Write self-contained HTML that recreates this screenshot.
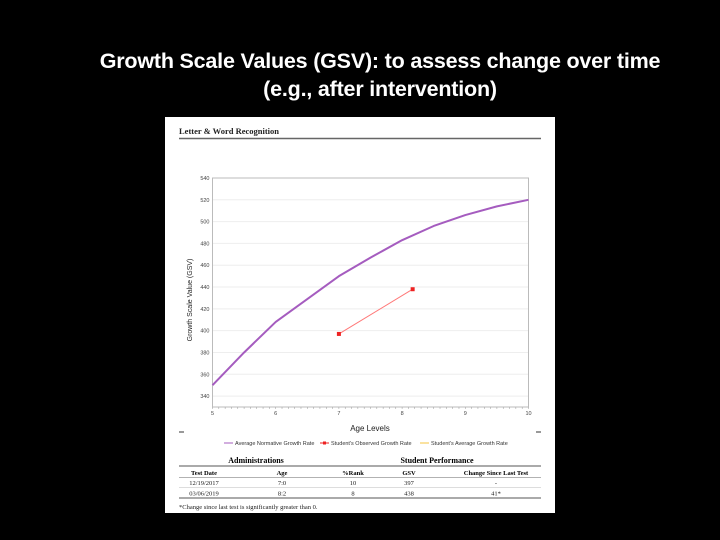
<!DOCTYPE html>
<html><head><meta charset="utf-8"><style>
body{margin:0;background:#000;width:720px;height:540px;overflow:hidden;position:relative;font-family:"Liberation Sans",sans-serif}
.t{position:absolute;left:0;width:760px;text-align:center;color:#fff;font-weight:bold;font-size:21.5px;letter-spacing:-0.2px}
#card{position:absolute;left:165px;top:117px;width:390px;height:396px;background:#fff}
</style></head><body>
<div class="t" style="top:49px">Growth Scale Values (GSV): to assess change over time</div>
<div class="t" style="top:77px">(e.g., after intervention)</div>
<div id="card"></div>
<svg id="svg" width="720" height="540" style="position:absolute;left:0;top:0"></svg>
<script>
const ages=[5,5.5,6,6.5,7,7.5,8,8.5,9,9.5,10];
const norm=[350,380,408,429,450,467,483,496,506,514,520];
const obsAge=[7,8.167];
const obsGsv=[397,438];
const yTicks=[340,360,380,400,420,440,460,480,500,520,540];
const xTicks=[5,6,7,8,9,10];
const rows=[["12/19/2017","7:0","10","397","-"],["03/06/2019","8:2","8","438","41*"]];
const X0=212.5,X1=528.5,Y0=407,Y1=178;
const sx=a=>X0+(a-5)/(10-5)*(X1-X0);
const sy=v=>Y0-(v-330)/(540-330)*(Y0-Y1);
const svg=document.getElementById('svg');const NS='http://www.w3.org/2000/svg';
function el(t,at,txt){const e=document.createElementNS(NS,t);for(const k in at)e.setAttribute(k,at[k]);if(txt!=null)e.textContent=txt;svg.appendChild(e);return e;}
let e;
e=el('text',{x:179,y:134,'font-family':'Liberation Serif,serif','font-weight':'bold','font-size':8.5,fill:'#222'},'Letter & Word Recognition');

el('line',{x1:179,x2:541,y1:138.5,y2:138.5,stroke:'#666','stroke-width':1.5});
for(const v of yTicks){
 e=el('line',{x1:X0,x2:X1,y1:sy(v),y2:sy(v),stroke:'#eee','stroke-width':1});
 
 e=el('text',{x:X0-3,y:sy(v)+2,'font-size':5.5,'text-anchor':'end',fill:'#444'},v);
 
}
el('rect',{x:X0,y:Y1,width:X1-X0,height:Y0-Y1,fill:'none',stroke:'#bbb','stroke-width':1});
for(let a=5;a<=10.001;a+=0.1){el('line',{x1:sx(a),x2:sx(a),y1:Y0,y2:Y0+2,stroke:'#999','stroke-width':0.5});}
for(const a of xTicks){
 e=el('text',{x:sx(a),y:Y0+8,'font-size':5.5,'text-anchor':'middle',fill:'#444'},a);
 
}
e=el('text',{x:370,y:431,'font-size':8,'text-anchor':'middle',fill:'#222'},'Age Levels');

e=el('text',{x:192,y:300,'font-size':7,'text-anchor':'middle',fill:'#222',transform:'rotate(-90 192 300)'},'Growth Scale Value (GSV)');

e=el('polyline',{points:ages.map((a,i)=>sx(a)+','+sy(norm[i])).join(' '),fill:'none',stroke:'#a55cbf','stroke-width':2,'stroke-linejoin':'round'});

e=el('polyline',{points:obsAge.map((a,i)=>sx(a)+','+sy(obsGsv[i])).join(' '),fill:'none',stroke:'#f77','stroke-width':1});

obsAge.forEach((a,i)=>{e=el('rect',{x:sx(a)-2,y:sy(obsGsv[i])-2,width:4,height:4,fill:'#e22'});
 });
el('line',{x1:179,x2:184,y1:432,y2:432,stroke:'#333'});el('line',{x1:536,x2:541,y1:432,y2:432,stroke:'#333'});
const leg=[[224,'#a55cbf','Average Normative Growth Rate'],[320,'#e22','Student\'s Observed Growth Rate'],[420,'#f5c542','Student\'s Average Growth Rate']];
for(const [x,c,t] of leg){
 el('line',{x1:x,x2:x+9,y1:443,y2:443,stroke:c,'stroke-width':1});
 if(c=='#e22')el('rect',{x:x+3,y:441.5,width:3,height:3,fill:c});
 e=el('text',{x:x+11,y:445,'font-size':5.5,fill:'#333'},t);
 
}
const S='Liberation Serif,serif';
e=el('text',{x:256,y:463,'font-family':S,'font-weight':'bold','font-size':8,'text-anchor':'middle'},'Administrations');

e=el('text',{x:437,y:463,'font-family':S,'font-weight':'bold','font-size':8,'text-anchor':'middle'},'Student Performance');

el('line',{x1:179,x2:541,y1:466,y2:466,stroke:'#555','stroke-width':1});
const cx=[204,282,353,409,496];
['Test Date','Age','%Rank','GSV','Change Since Last Test'].forEach((h,i)=>{e=el('text',{x:cx[i],y:475,'font-family':S,'font-weight':'bold','font-size':6.5,'text-anchor':'middle'},h);
 });
el('line',{x1:179,x2:541,y1:477.5,y2:477.5,stroke:'#999','stroke-width':0.8});
rows.forEach((r,j)=>{const y=485+j*10.5;r.forEach((c,i)=>{e=el('text',{x:cx[i],y:y,'font-family':S,'font-size':6.5,'text-anchor':'middle',fill:'#222'},c);
 });
 el('line',{x1:179,x2:541,y1:y+2.5,y2:y+2.5,stroke:j?'#555':'#bbb','stroke-width':j?1:0.6});});
e=el('text',{x:179,y:509,'font-family':S,'font-size':6.5,fill:'#222'},'*Change since last test is significantly greater than 0.');

</script>
</body></html>
